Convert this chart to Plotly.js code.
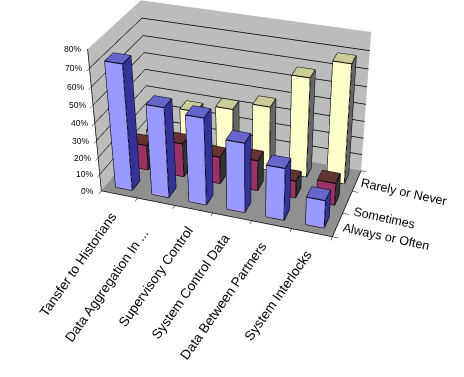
<!DOCTYPE html><html><head><script src="https://cdn.plot.ly/plotly-3.0.1.min.js"></script></head><body style="margin:0;background:#fff;overflow:hidden">
<div id="g" style="position:absolute"></div>
<script>
const categories=['Tansfer to Historians','Data Aggregation In ...','Supervisory Control','System Control Data','Data Between Partners','System Interlocks'];
const seriesNames=['Always or Often','Sometimes','Rarely or Never'];
const alwaysOrOften=[72,52,50,40,30,16];
const sometimes=[15,20,16,18,10,13];
const rarelyOrNever=[11,28,33,38,58,69];
const percentTicks=[0,10,20,30,40,50,60,70,80];
const H=800,W=498,offX=248.907,offY=145.156;
const g=document.getElementById('g');g.style.left=(offX-W/2)+'px';g.style.top=(offY-H/2)+'px';g.style.width=W+'px';g.style.height=H+'px';
const palette=[['#9999ff','#333399','#6666cc'],['#993366','#333333','#663333'],['#ffffcc','#666666','#cccc99']];
const allSeries=[alwaysOrOften,sometimes,rarelyOrNever];
const gap=0.27;
const traces=[];const ex=[],ey=[],ez=[];
allSeries.forEach((vals,s)=>{const X=[],Y=[],Z=[],I=[],J=[],K=[],FC=[];
 vals.forEach((v,c)=>{const x0=c+gap,x1=c+1-gap,y0=s+gap,y1=s+1-gap,b=X.length;
  [[x0,y0,0],[x1,y0,0],[x1,y1,0],[x0,y1,0],[x0,y0,v],[x1,y0,v],[x1,y1,v],[x0,y1,v]].forEach(q=>{X.push(q[0]);Y.push(q[1]);Z.push(q[2]);});
  const faces=[[0,1,5,0],[0,5,4,0],[1,2,6,1],[1,6,5,1],[4,5,6,2],[4,6,7,2],[3,2,6,1],[3,6,7,1],[0,3,7,1],[0,7,4,1]];
  faces.forEach(f=>{I.push(b+f[0]);J.push(b+f[1]);K.push(b+f[2]);FC.push(palette[s][f[3]]);});
  [[0,1],[1,2],[2,3],[3,0],[4,5],[5,6],[6,7],[7,4],[0,4],[1,5],[2,6],[3,7]].forEach(e=>{[e[0],e[1]].forEach(k=>{ex.push(X[b+k]);ey.push(Y[b+k]);ez.push(Z[b+k]);});ex.push(null);ey.push(null);ez.push(null);});
 });
 traces.push({type:'mesh3d',name:seriesNames[s],x:X,y:Y,z:Z,i:I,j:J,k:K,facecolor:FC,flatshading:true,lighting:{ambient:1,diffuse:0,specular:0,fresnel:0,roughness:1},hoverinfo:'skip'});
});
traces.push({type:'scatter3d',mode:'lines',x:ex,y:ey,z:ez,line:{color:'#000',width:2},hoverinfo:'skip'});
const font=s=>({family:'Liberation Sans, Arial, sans-serif',size:s,color:'#000'});
const catShift=[[3,-13],[-2,-22],[5,-11],[3,-11],[1,-11],[6,-12]];
const serShift=[[2,-12],[2,-16],[0,-11]];
const ann=[];
percentTicks.forEach(v=>ann.push({x:0,y:0,z:v,text:v+'%',showarrow:false,xanchor:'right',yanchor:'middle',xshift:-5,font:font(8.5)}));
categories.forEach((t,i)=>ann.push({x:i+.5,y:0,z:0,text:t,showarrow:false,textangle:-55,xanchor:'right',yanchor:'top',xshift:catShift[i][0],yshift:catShift[i][1],font:font(13.5)}));
seriesNames.forEach((t,i)=>ann.push({x:6,y:i+.5,z:0,text:t,showarrow:false,textangle:12.5,xanchor:'left',yanchor:'middle',xshift:serShift[i][0],yshift:serShift[i][1],font:font(12.5)}));
const axis={showbackground:true,showgrid:false,zeroline:false,showline:true,linecolor:'#000',linewidth:1.5,ticks:'outside',ticklen:5,tickcolor:'#000',showticklabels:false,showspikes:false,title:{text:''}};
Plotly.newPlot('g',traces,{margin:{l:0,r:0,t:0,b:0},width:W,height:H,showlegend:false,paper_bgcolor:'#fff',scene:{domain:{x:[0,1],y:[0,1]},aspectmode:'manual',aspectratio:{x:0.91,y:0.4554,z:0.6},
camera:{eye:{x:1.0555,y:-2.9441,z:1.7823},center:{x:0.7836,y:-2.1364,z:1.2591},up:{x:0,y:0,z:1}},annotations:ann,
xaxis:Object.assign({},axis,{range:[0,6],dtick:1,backgroundcolor:'#bcbcbc'}),
yaxis:Object.assign({},axis,{range:[0,3],dtick:1,backgroundcolor:'#bcbcbc'}),
zaxis:Object.assign({},axis,{range:[0,80],tickmode:'array',tickvals:percentTicks.slice(1,-1),showgrid:true,gridcolor:'#000',gridwidth:1.5,backgroundcolor:'#909090'})}},{displayModeBar:false});
</script></body></html>
